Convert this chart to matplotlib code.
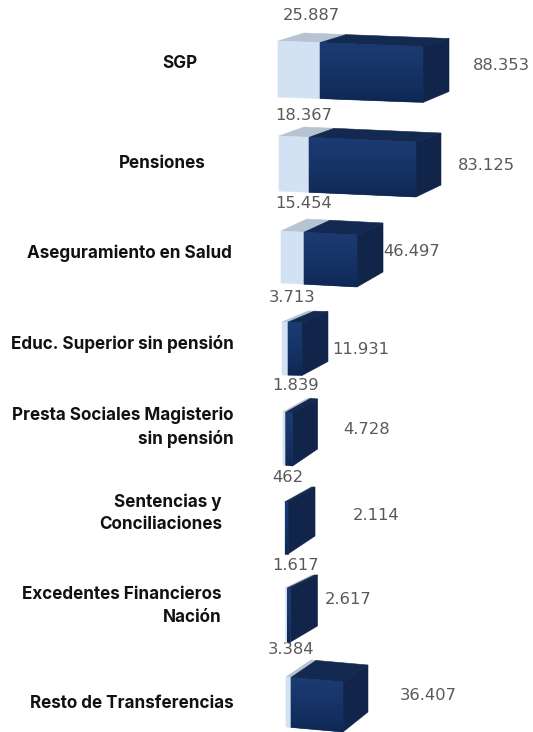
import numpy as np
import matplotlib
matplotlib.use('Agg')
import matplotlib.pyplot as plt
from matplotlib.colors import LinearSegmentedColormap
from matplotlib.patches import Polygon

# data
categories = ['SGP', 'Pensiones', 'Aseguramiento en Salud', 'Educ. Superior sin pensión',
              'Presta Sociales Magisterio\nsin pensión', 'Sentencias y\nConciliaciones',
              'Excedentes Financieros\nNación', 'Resto de Transferencias']
light_values = [25887, 18367, 15454, 3713, 1839, 462, 1617, 3384]
dark_values = [88353, 83125, 46497, 11931, 4728, 2114, 2617, 36407]

# layout, in pixels of the reference (units per pixel differ by bar, the 3D view is in perspective)
light_scale = [616, 612, 672, 620, 700, 460, 650, 680]
dark_scale = [858, 777, 877, 852, 675, 700, 870, 700]
bar_left = [278, 279, 281, 282, 283, 284, 285, 286]
bar_top = [41, 136, 231, 322, 412, 502, 588, 677]
bar_height = [56, 55, 52, 53, 53, 52, 54, 50]
bar_drop = [5.5, 6, 4, 0.5, 1, 0, 0, 5]
depth_x = [26, 25, 26, 26, 25, 27, 27, 25]
depth_y = [8, 9, 12, 11, 14, 15, 13, 17]

label_x = [180, 206, 232, 234, 234, 222, 222, 234]
label_y = [64, 163, 253, 344, 427, 513, 606, 704]
light_label_xy = [(311, 16), (304, 115), (304, 204), (292, 298), (296, 385), (288, 478), (296, 566), (291, 649)]
dark_label_xy = [(501, 66), (486, 165), (412, 251), (361, 349), (367, 429), (376, 516), (348, 599), (428, 696)]

front_cmap = LinearSegmentedColormap.from_list('front', ['#0d2550', '#1b3b73'])


def face(ax, pts, color, z):
    patch = Polygon(pts, fc=color, ec=color, lw=0.4, zorder=z)
    ax.add_patch(patch)
    return patch


def draw_bar(ax, i):
    x0, y0, h = bar_left[i], bar_top[i], bar_height[i]
    w1 = light_values[i] / light_scale[i]
    w2 = dark_values[i] / dark_scale[i]
    dx, dy = depth_x[i], depth_y[i]
    slope = bar_drop[i] / (w1 + w2)
    x1, x2 = x0 + w1, x0 + w1 + w2
    y1, y2 = y0 + slope * w1, y0 + slope * (w1 + w2)

    # top faces
    face(ax, [(x0, y0), (x1, y1), (x1 + dx, y1 - dy), (x0 + dx, y0 - dy)], '#b6c3d3', 2)
    face(ax, [(x1, y1), (x2, y2), (x2 + dx, y2 - dy), (x1 + dx, y1 - dy)], '#14294f', 3)
    # side face
    face(ax, [(x2, y2), (x2 + dx, y2 - dy), (x2 + dx, y2 - dy + h - 3), (x2, y2 + h)], '#11254a', 3)
    # front faces
    face(ax, [(x0, y0), (x1, y1), (x1, y1 + h), (x0, y0 + h)], '#d3e2f3', 4)
    front = face(ax, [(x1, y1), (x2, y2), (x2, y2 + h), (x1, y1 + h)], '#16315f', 4)
    shade = np.linspace(0, 1, 40).reshape(-1, 1) ** 0.6
    im = ax.imshow(shade, cmap=front_cmap, extent=(x1, x2, y2 + h, y0), origin='lower',
                   aspect='auto', zorder=5)
    im.set_clip_path(front)


fig = plt.figure(figsize=(5.33, 7.32), dpi=100)
ax = fig.add_axes([0, 0, 1, 1])

for i in range(len(categories)):
    draw_bar(ax, i)
    ha = 'center' if i == 0 else 'right'
    ax.text(label_x[i], label_y[i], categories[i], ha=ha, va='center', fontsize=12.3,
            fontweight='bold', family='Inter', color='#111111', linespacing=1.42)
    ax.text(*light_label_xy[i], f'{light_values[i]:,}'.replace(',', '.'), ha='center', va='center',
            fontsize=11.8, color='#595959')
    ax.text(*dark_label_xy[i], f'{dark_values[i]:,}'.replace(',', '.'), ha='center', va='center',
            fontsize=11.8, color='#595959')

ax.set_xlim(0, 533)
ax.set_ylim(732, 0)
ax.axis('off')
fig.savefig('out.png', dpi=100)
